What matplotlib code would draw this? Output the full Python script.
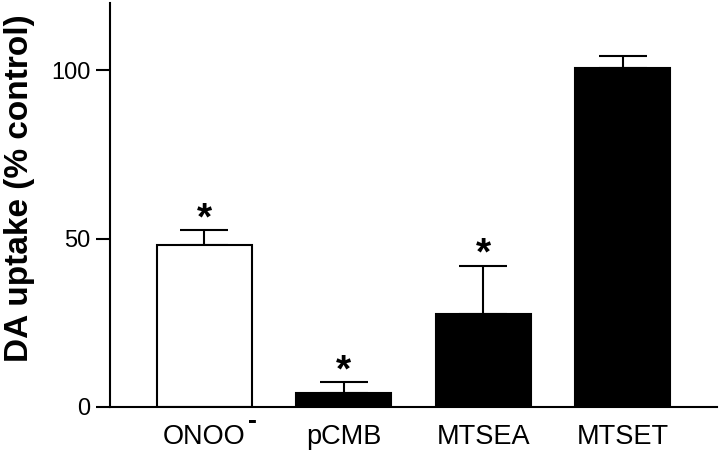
'''
DA uptake bar chart
'''

import numpy as np
import matplotlib
matplotlib.use('Agg')
import matplotlib.pyplot as plt

######################################

labels=['ONOO','pCMB','MTSEA','MTSET']
charges=['-','','','']
uptake=[48.1,4.3,27.7,100.8]
sem=[4.4,3.1,14.2,3.5]
colours=['white','black','black','black']
signif=[True,True,True,False]

######################################

plt.rcParams['font.family']=['Liberation Sans','DejaVu Sans']

fig=plt.figure(figsize=(7.2,4.51),dpi=100)
ax=fig.add_axes([0.1528,0.0976,0.8430,0.8960])

x=np.arange(len(uptake))
ax.bar(x,uptake,width=0.68,color=colours,edgecolor='black',linewidth=1.5,zorder=2)

# upper error bars only
ax.errorbar(x,uptake,yerr=[np.zeros(len(sem)),sem],fmt='none',ecolor='black',
            elinewidth=1.5,capsize=17,capthick=1.5,zorder=1)

# significance stars
for i in range(len(uptake)):
  if(signif[i]):
    ax.annotate('*',(x[i],uptake[i]+sem[i]),xytext=(0,-5),textcoords='offset points',
                ha='center',va='bottom',fontsize=28,fontweight='bold')

ax.set_xlim(-0.674,3.674)
ax.set_ylim(0,120)
ax.set_yticks([0,50,100])
ax.set_xticks(x)
ax.set_xticklabels(labels,fontsize=19.5)
ax.tick_params(axis='x',length=0,pad=12)
ax.tick_params(axis='y',length=10,width=1.5,labelsize=17,pad=4)
ax.set_ylabel('DA uptake (% control)',fontsize=24,fontweight='bold')
ax.yaxis.set_label_coords(-0.124,0.542)

for s in ['top','right']:
  ax.spines[s].set_visible(False)
for s in ['left','bottom']:
  ax.spines[s].set_linewidth(1.5)

# raised charge signs after the tick labels
fig.canvas.draw()
for lab,c in zip(ax.get_xticklabels(),charges):
  if(c!=''):
    ax.annotate(c,xy=(1,1),xycoords=lab,xytext=(2,1),textcoords='offset points',
                ha='left',va='center',fontsize=19.5,fontweight='bold')

fig.savefig('out.png',dpi=100)
